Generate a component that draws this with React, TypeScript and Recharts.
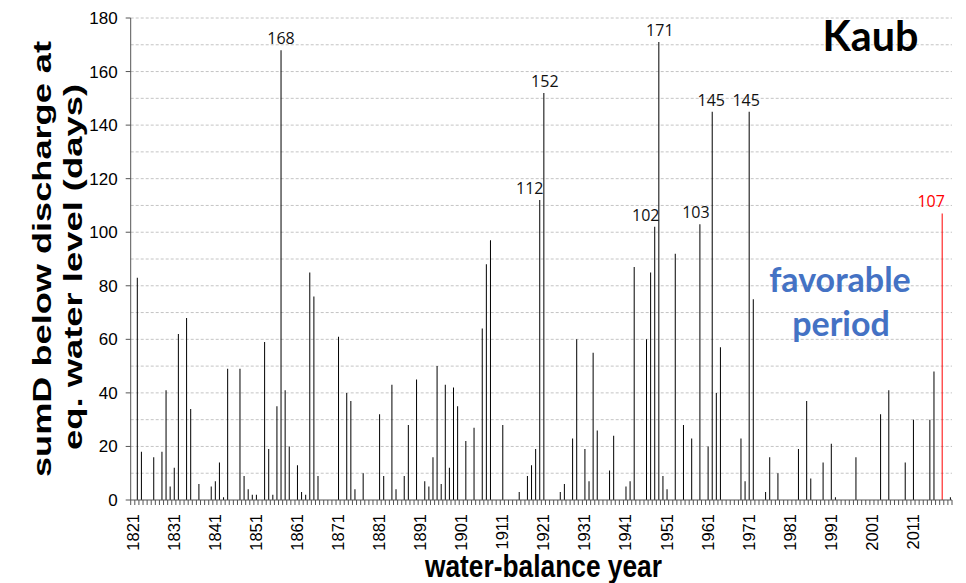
import React from "react";
import { BarChart, Bar, XAxis, YAxis, CartesianGrid, Cell, LabelList } from "recharts";

// ---- data ----
const FIRST_YEAR = 1821;
const LAST_YEAR = 2020;

const YEARS_1800S = [
  1822, 1823, 1826, 1828, 1829, 1830, 1831, 1832, 1834, 1835, 1837, 1840, 1841, 1842,
  1843, 1844, 1847, 1848, 1849, 1850, 1851, 1853, 1854, 1855, 1856, 1857, 1858, 1859,
  1861, 1862, 1863, 1864, 1865, 1866, 1871, 1873, 1874, 1875, 1877, 1881, 1882, 1884,
  1885, 1887, 1888, 1890, 1892, 1893, 1894, 1895, 1896, 1897, 1898, 1899, 1900,
];
const DAYS_1800S = [
  83, 18, 16, 18, 41, 5, 12, 62, 68, 34, 6, 5, 7, 14,
  1, 49, 49, 9, 4, 2, 2, 59, 19, 2, 35, 168, 41, 20,
  13, 3, 2, 85, 76, 9, 61, 40, 37, 4, 10, 32, 9, 43,
  4, 9, 28, 45, 7, 5, 16, 50, 6, 43, 12, 42, 35,
];

const YEARS_1900S = [
  1902, 1904, 1906, 1907, 1908, 1911, 1915, 1917, 1918, 1919, 1920, 1921, 1925, 1926,
  1928, 1929, 1931, 1932, 1933, 1934, 1937, 1938, 1941, 1942, 1943, 1946, 1947, 1948,
  1949, 1950, 1951, 1953, 1955, 1957, 1959, 1961, 1962, 1963, 1964, 1969, 1970, 1971,
  1972, 1975, 1976, 1978, 1983, 1985, 1986, 1989, 1991, 1992, 1997,
];
const DAYS_1900S = [
  22, 27, 64, 88, 97, 28, 3, 9, 13, 19, 112, 152, 3, 6,
  23, 60, 19, 7, 55, 26, 11, 24, 5, 7, 87, 60, 85, 102,
  171, 9, 4, 92, 28, 23, 103, 20, 145, 40, 57, 23, 7, 145,
  75, 3, 16, 10, 19, 37, 8, 14, 21, 1, 16,
];

const YEARS_2000S = [2003, 2005, 2009, 2011, 2015, 2016, 2018, 2020];
const DAYS_2000S = [32, 41, 14, 30, 30, 48, 107, 1];

const HIGHLIGHT_YEAR = 2018;
const LABEL_THRESHOLD = 100;
const X_TICK_LABELS = [
  1821, 1831, 1841, 1851, 1861, 1871, 1881, 1891, 1901, 1911,
  1921, 1931, 1941, 1951, 1961, 1971, 1981, 1991, 2001, 2011,
];
const Y_TICKS = [0, 20, 40, 60, 80, 100, 120, 140, 160, 180];
const GRID_VALUES = [10, 20, 30, 40, 50, 60, 70, 80, 90, 100, 110, 120, 130, 140, 150, 160, 170, 180];

// label nudges (style only)
const LABEL_DX: Record<number, number> = {
  1920: -10, 1921: 1, 1948: -9, 1949: 1, 1959: -4, 1962: -1, 1971: -3, 2018: -11,
};

// ---- build table ----
const valueByYear = new Map<number, number>();
[
  [YEARS_1800S, DAYS_1800S],
  [YEARS_1900S, DAYS_1900S],
  [YEARS_2000S, DAYS_2000S],
].forEach(([ys, vs]) => ys.forEach((y, i) => valueByYear.set(y, vs[i])));

const DATA: { year: number; days: number }[] = [];
for (let y = FIRST_YEAR; y <= LAST_YEAR; y++) {
  DATA.push({ year: y, days: valueByYear.get(y) ?? 0 });
}

// ---- layout ----
const W = 966;
const H = 583;
const Y_AXIS_W = 130.7;
const RIGHT_M = 14;
const X_AXIS_H = 83;
const HALF_BAND = (W - Y_AXIS_W - RIGHT_M) / DATA.length / 2;
const AXIS_COLOR = "#555555";

function XTick(props: any) {
  const { x, y, payload, index } = props;
  const axisY = y - 5;
  const year = payload.value;
  const showLabel = X_TICK_LABELS.includes(year);
  return (
    <g>
      <line x1={x - HALF_BAND} x2={x - HALF_BAND} y1={axisY} y2={axisY + 5} stroke={AXIS_COLOR} />
      {index === DATA.length - 1 && (
        <line x1={x + HALF_BAND} x2={x + HALF_BAND} y1={axisY} y2={axisY + 5} stroke={AXIS_COLOR} />
      )}
      {showLabel && (
        <text
          x={x}
          y={axisY + 14}
          transform={`rotate(-90 ${x} ${axisY + 14})`}
          textAnchor="end"
          dy="0.36em"
          fontSize={16.5}
          fontFamily="'Liberation Sans', Arial, sans-serif"
          fill="#000"
        >
          {year}
        </text>
      )}
    </g>
  );
}

function PeakLabel(props: any) {
  const { x, y, width, value } = props;
  const year = Number(value);
  const days = valueByYear.get(year) ?? 0;
  if (days < LABEL_THRESHOLD) return null;
  const dx = LABEL_DX[year] ?? 0;
  return (
    <text
      x={x + width / 2 + dx}
      y={y - 6}
      textAnchor="middle"
      fontSize={16}
      fontFamily="'Open Sans', 'Noto Sans', sans-serif"
      fill={year === HIGHLIGHT_YEAR ? "#FF0000" : "#111"}
    >
      {days}
    </text>
  );
}

export default function App() {
  return (
    <div style={{ position: "absolute", left: 0, top: 0, width: W, height: H, background: "#fff" }}>
      <BarChart
        width={W}
        height={H}
        data={DATA}
        margin={{ top: 18, right: RIGHT_M, bottom: 0, left: 0 }}
        barCategoryGap={0}
      >
        <CartesianGrid
          vertical={false}
          horizontalValues={GRID_VALUES}
          stroke="#c4c4c4"
          strokeDasharray="3 2"
        />
        <XAxis
          dataKey="year"
          interval={0}
          height={X_AXIS_H}
          tickLine={false}
          tickSize={5}
          tickMargin={0}
          tick={<XTick />}
          axisLine={{ stroke: AXIS_COLOR }}
        />
        <YAxis
          width={Y_AXIS_W}
          domain={[0, 180]}
          ticks={Y_TICKS}
          interval={0}
          tickSize={5}
          tickMargin={8}
          axisLine={{ stroke: AXIS_COLOR }}
          tickLine={{ stroke: AXIS_COLOR }}
          tick={{ fontSize: 17, fill: "#000", fontFamily: "'Liberation Sans', Arial, sans-serif" }}
        />
        <Bar dataKey="days" barSize={1} isAnimationActive={false}>
          {DATA.map((d) => (
            <Cell key={d.year} fill={d.year === HIGHLIGHT_YEAR ? "#FF0000" : "#000000"} />
          ))}
          <LabelList dataKey="year" content={<PeakLabel />} />
        </Bar>
      </BarChart>
      <svg
        width={W}
        height={H}
        style={{ position: "absolute", left: 0, top: 0, pointerEvents: "none" }}
      >
        <text
          x={51}
          y={259}
          transform="rotate(-90 51 259)"
          textAnchor="middle"
          fontSize={26}
          fontWeight="bold"
          fontFamily="'Liberation Sans', Arial, sans-serif"
          textLength={436}
          lengthAdjust="spacingAndGlyphs"
          fill="#000"
        >
          sumD  below discharge at
        </text>
        <text
          x={82}
          y={267}
          transform="rotate(-90 82 267)"
          textAnchor="middle"
          fontSize={26}
          fontWeight="bold"
          fontFamily="'Liberation Sans', Arial, sans-serif"
          textLength={366}
          lengthAdjust="spacingAndGlyphs"
          fill="#000"
        >
          eq. water level  (days)
        </text>
        <text
          x={543.5}
          y={577}
          textAnchor="middle"
          fontSize={31}
          fontWeight="bold"
          fontFamily="'Liberation Sans', Arial, sans-serif"
          textLength={237}
          lengthAdjust="spacingAndGlyphs"
          fill="#000"
        >
          water-balance year
        </text>
        <text
          x={870.5}
          y={51}
          textAnchor="middle"
          fontSize={42}
          fontWeight="bold"
          fontFamily="Lato, 'Open Sans', sans-serif"
          textLength={96}
          lengthAdjust="spacingAndGlyphs"
          fill="#000"
        >
          Kaub
        </text>
        <text
          x={840}
          y={292}
          textAnchor="middle"
          fontSize={34}
          fontWeight="bold"
          fontFamily="Lato, 'Open Sans', sans-serif"
          fill="#4472C4"
        >
          favorable
        </text>
        <text
          x={841}
          y={336}
          textAnchor="middle"
          fontSize={34}
          fontWeight="bold"
          fontFamily="Lato, 'Open Sans', sans-serif"
          fill="#4472C4"
        >
          period
        </text>
      </svg>
    </div>
  );
}
